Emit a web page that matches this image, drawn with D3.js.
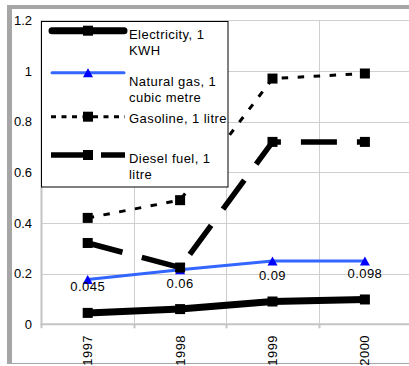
<!DOCTYPE html>
<html><head><meta charset="utf-8">
<script src="https://cdn.jsdelivr.net/npm/d3@7"></script>
<style>
html,body{margin:0;padding:0;background:#fff;overflow:hidden}
svg{display:block;font-family:"Liberation Sans",Arial,sans-serif}
</style></head>
<body>
<svg id="c" width="409" height="366"></svg>
<script>
const categories = ["1997","1998","1999","2000"];
const electricity = [0.045, 0.06, 0.09, 0.098];
const naturalGas = [0.177, 0.215, 0.25, 0.25];
const gasoline = [0.42, 0.49, 0.97, 0.99];
const diesel = [0.321, 0.224, 0.72, 0.72];
const electricityLabels = ["0.045","0.06","0.09","0.098"];
const yTicks = [0, 0.2, 0.4, 0.6, 0.8, 1, 1.2];
const yTickLabels = ["0","0.2","0.4","0.6","0.8","1","1.2"];
const seriesNames = [["Electricity, 1","KWH"],["Natural gas, 1","cubic metre"],["Gasoline, 1 litre"],["Diesel fuel, 1","litre"]];

const svg = d3.select("#c");
const x = d3.scaleBand().domain(categories).range([41.5, 411.1]);
const y = d3.scaleLinear().domain([0, 1.2]).range([324.3, 20.3]);
const cx = c => x(c) + x.bandwidth()/2;
const FS = "13px", LS = "0.45px";

// outer frame
svg.append("rect").attr("x",7).attr("y",5).attr("width",402).attr("height",4).attr("fill","#a6a6a6");
svg.append("rect").attr("x",7).attr("y",5).attr("width",5).attr("height",359).attr("fill","#a6a6a6");
svg.append("line").attr("x1",12).attr("x2",409).attr("y1",363.5).attr("y2",363.5).attr("stroke","#a6a6a6").attr("stroke-width",1);

// gridlines
const grid = svg.append("g");
grid.selectAll("line.h").data(yTicks.filter(d=>d>0)).enter().append("line")
  .attr("x1",41.5).attr("x2",409).attr("y1",d=>Math.round(y(d))+0.5).attr("y2",d=>Math.round(y(d))+0.5)
  .attr("stroke","#cfcfcf").attr("stroke-width",1);
grid.selectAll("line.v").data(categories.slice(1)).enter().append("line")
  .attr("x1",d=>Math.round(x(d))+0.5).attr("x2",d=>Math.round(x(d))+0.5).attr("y1",y(1.2)).attr("y2",y(0))
  .attr("stroke","#cfcfcf").attr("stroke-width",1);

// axes
svg.append("line").attr("x1",41.5).attr("x2",41.5).attr("y1",y(1.2)).attr("y2",y(0)+4).attr("stroke","#c4c4c4").attr("stroke-width",2);
svg.append("line").attr("x1",40.5).attr("x2",409).attr("y1",y(0)).attr("y2",y(0)).attr("stroke","#c4c4c4").attr("stroke-width",2);
svg.selectAll("line.xt").data(categories.slice(1)).enter().append("line")
  .attr("x1",d=>Math.round(x(d))+0.5).attr("x2",d=>Math.round(x(d))+0.5).attr("y1",y(0)).attr("y2",y(0)+4)
  .attr("stroke","#c4c4c4").attr("stroke-width",2);

svg.selectAll("text.yt").data(yTicks).enter().append("text")
  .attr("x",32).attr("y",d=>y(d)).attr("dy","0.35em").attr("text-anchor","end")
  .attr("font-size",FS).attr("fill","#000").text((d,i)=>yTickLabels[i]);
svg.selectAll("text.xt").data(categories).enter().append("text")
  .attr("transform",d=>`translate(${cx(d)},335) rotate(-90)`).attr("dy","0.35em").attr("text-anchor","end")
  .attr("font-size",FS).attr("letter-spacing",LS).attr("fill","#000").text(d=>d);

// series
const line = d3.line().x((d,i)=>cx(categories[i])).y(d=>y(d));
function sq(g, data, size){
  g.selectAll(null).data(data).enter().append("rect")
   .attr("x",(d,i)=>cx(categories[i])-size/2).attr("y",d=>y(d)-size/2)
   .attr("width",size).attr("height",size).attr("fill","#000");
}
const tri = (px,py,w,h)=>`M${px},${py-h/2}L${px+w/2},${py+h/2}L${px-w/2},${py+h/2}Z`;

const gE = svg.append("g");
gE.append("path").attr("d",line(electricity)).attr("fill","none").attr("stroke","#000").attr("stroke-width",7).attr("stroke-linecap","round").attr("stroke-linejoin","round");
sq(gE, electricity, 10);

const gG = svg.append("g");
gG.append("path").attr("d",line(naturalGas)).attr("fill","none").attr("stroke","#3366ff").attr("stroke-width",3).attr("stroke-linecap","round");
gG.selectAll(null).data(naturalGas).enter().append("path").attr("d",(d,i)=>tri(cx(categories[i]),y(d),10,9)).attr("fill","#0000ff");

const gS = svg.append("g");
gS.append("path").attr("d",line(gasoline)).attr("fill","none").attr("stroke","#000").attr("stroke-width",3).attr("stroke-dasharray","6.5,9.5");
sq(gS, gasoline, 10);

const gD = svg.append("g");
gD.append("path").attr("d",line(diesel)).attr("fill","none").attr("stroke","#000").attr("stroke-width",5.5).attr("stroke-dasharray","36,20");
sq(gD, diesel, 10);

// data labels
svg.selectAll("text.dl").data(electricity).enter().append("text")
  .attr("x",(d,i)=>cx(categories[i])).attr("y",d=>y(d)-21.5).attr("text-anchor","middle")
  .attr("font-size",FS).attr("letter-spacing",LS).attr("fill","#000").text((d,i)=>electricityLabels[i]);

// legend
const lg = svg.append("g");
lg.append("rect").attr("x",41.5).attr("y",21.5).attr("width",186.5).attr("height",165.5).attr("fill","#fff").attr("stroke","#000").attr("stroke-width",1);
const ly = [30.7, 72.7, 116.7, 155];
const tb = [39, 85.5, 122.5, 162.5];
const styles = [
  {w:7, c:"#000", dash:null, cap:"round"},
  {w:3, c:"#3366ff", dash:null, cap:"round"},
  {w:3, c:"#000", dash:"5,5.5", cap:"butt"},
  {w:5.5, c:"#000", dash:"42,8", cap:"butt"}
];
styles.forEach((s,i)=>{
  const l = lg.append("line").attr("x1",i<2?52:51).attr("x2",i<2?124:125).attr("y1",ly[i]).attr("y2",ly[i])
    .attr("stroke",s.c).attr("stroke-width",s.w).attr("stroke-linecap",s.cap);
  if(s.dash) l.attr("stroke-dasharray",s.dash);
  if(i===1) lg.append("path").attr("d",tri(88,ly[i],10,9)).attr("fill","#0000ff");
  else lg.append("rect").attr("x",83).attr("y",ly[i]-5).attr("width",10).attr("height",10).attr("fill","#000");
  const t = lg.append("text").attr("x",129).attr("y",tb[i]).attr("font-size",FS).attr("letter-spacing",LS).attr("fill","#000");
  seriesNames[i].forEach((s2,j)=>t.append("tspan").attr("x",129).attr("dy",j?16:0).text(s2));
});
</script>
</body></html>
